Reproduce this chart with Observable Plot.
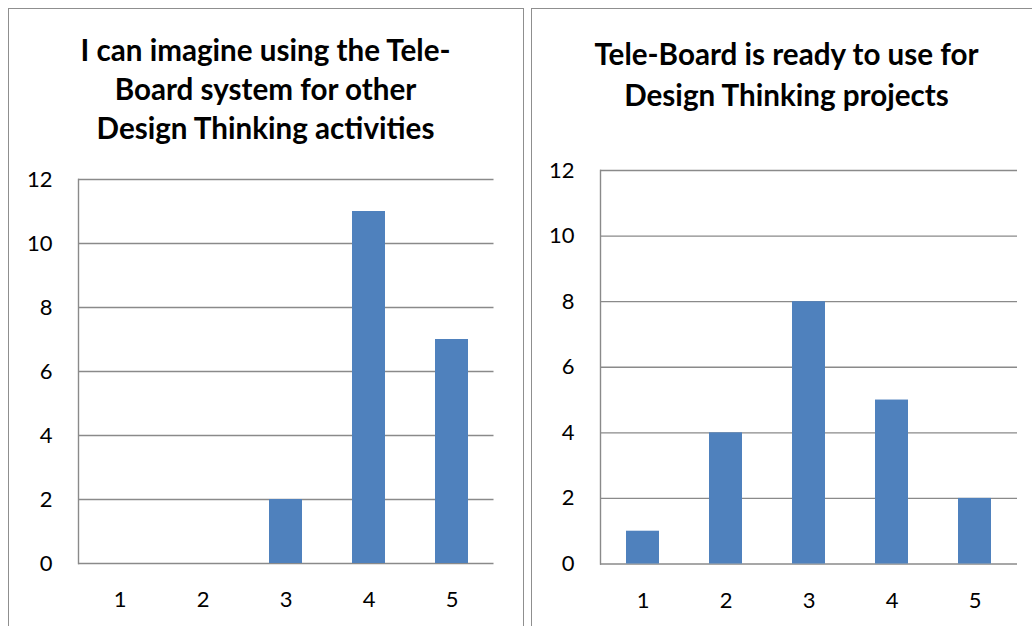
<!DOCTYPE html>
<html>
<head>
<meta charset="utf-8">
<script src="https://cdn.jsdelivr.net/npm/d3@7"></script>
<script src="https://cdn.jsdelivr.net/npm/@observablehq/plot@0.6"></script>
<style>
  html, body { margin: 0; padding: 0; background: #fff; }
  #wrap { position: relative; width: 1032px; height: 626px; overflow: hidden; font-family: Lato, "Open Sans", sans-serif; }
  .panel { position: absolute; box-sizing: border-box; border: 1.5px solid #8f8f8f; background: #fff; }
  .title { position: absolute; text-align: center; font-weight: 700; font-size: 29.6px; color: #000; }
  .chart { position: absolute; }
</style>
</head>
<body>
<div id="wrap">
  <div class="panel" style="left:8px;top:8px;width:515.5px;height:700px"></div>
  <div class="panel" style="left:530.5px;top:8px;width:516px;height:700px"></div>
  <div class="title" id="t1" style="left:8px;top:30px;width:515px;line-height:39px"></div>
  <div class="title" id="t2" style="left:529px;top:32.5px;width:515px;line-height:41.5px"></div>
  <div class="chart" id="c1" style="left:0px;top:150px"></div>
  <div class="chart" id="c2" style="left:523px;top:150px"></div>
</div>
<script>
const categories = ["1", "2", "3", "4", "5"];
const imagineValues = [0, 0, 2, 11, 7];
const readyValues = [1, 4, 8, 5, 2];
const yTicks = [0, 2, 4, 6, 8, 10, 12];
const title1Lines = ["I can imagine using the Tele-", "Board system for other", "Design Thinking activities"];
const title2Lines = ["Tele-Board is ready to use for", "Design Thinking projects"];

document.getElementById("t1").innerHTML = title1Lines.join("<br>");
document.getElementById("t2").innerHTML = title2Lines.join("<br>");

const barColor = "#4F81BD";
const gridColor = "#8a8a8a";

function makeChart(values, opts) {
  const data = categories.map((c, i) => ({cat: c, value: values[i]}));
  return Plot.plot({
    width: opts.width,
    height: opts.height,
    marginLeft: opts.marginLeft,
    marginRight: opts.marginRight,
    marginTop: opts.marginTop,
    marginBottom: opts.marginBottom,
    style: {fontFamily: "Lato, 'Open Sans', sans-serif", fontSize: "22px", color: "#000", background: "transparent", overflow: "visible"},
    x: {type: "band", domain: categories, paddingInner: 0.6, paddingOuter: 0.3, axis: null, label: null},
    y: {domain: [0, 12], axis: null, label: null},
    marks: [
      Plot.ruleY(yTicks, {stroke: gridColor, strokeWidth: 1.4}),
      Plot.frame({anchor: "left", stroke: gridColor, strokeWidth: 1.4}),
      Plot.barY(data, {x: "cat", y: "value", fill: barColor}),
      Plot.axisY({ticks: yTicks, tickSize: 0, tickPadding: 26, fontSize: 22, fill: "#000", label: null, tickFormat: d => String(d)}),
      Plot.axisX({tickSize: 0, tickPadding: 28, fontSize: 22, fill: "#000", label: null})
    ]
  });
}

document.getElementById("c1").appendChild(makeChart(imagineValues, {
  width: 523, height: 476, marginLeft: 78, marginRight: 29.5, marginTop: 29, marginBottom: 63
}));
document.getElementById("c2").appendChild(makeChart(readyValues, {
  width: 509, height: 476, marginLeft: 77, marginRight: 15, marginTop: 20, marginBottom: 62.5
}));
</script>
</body>
</html>
